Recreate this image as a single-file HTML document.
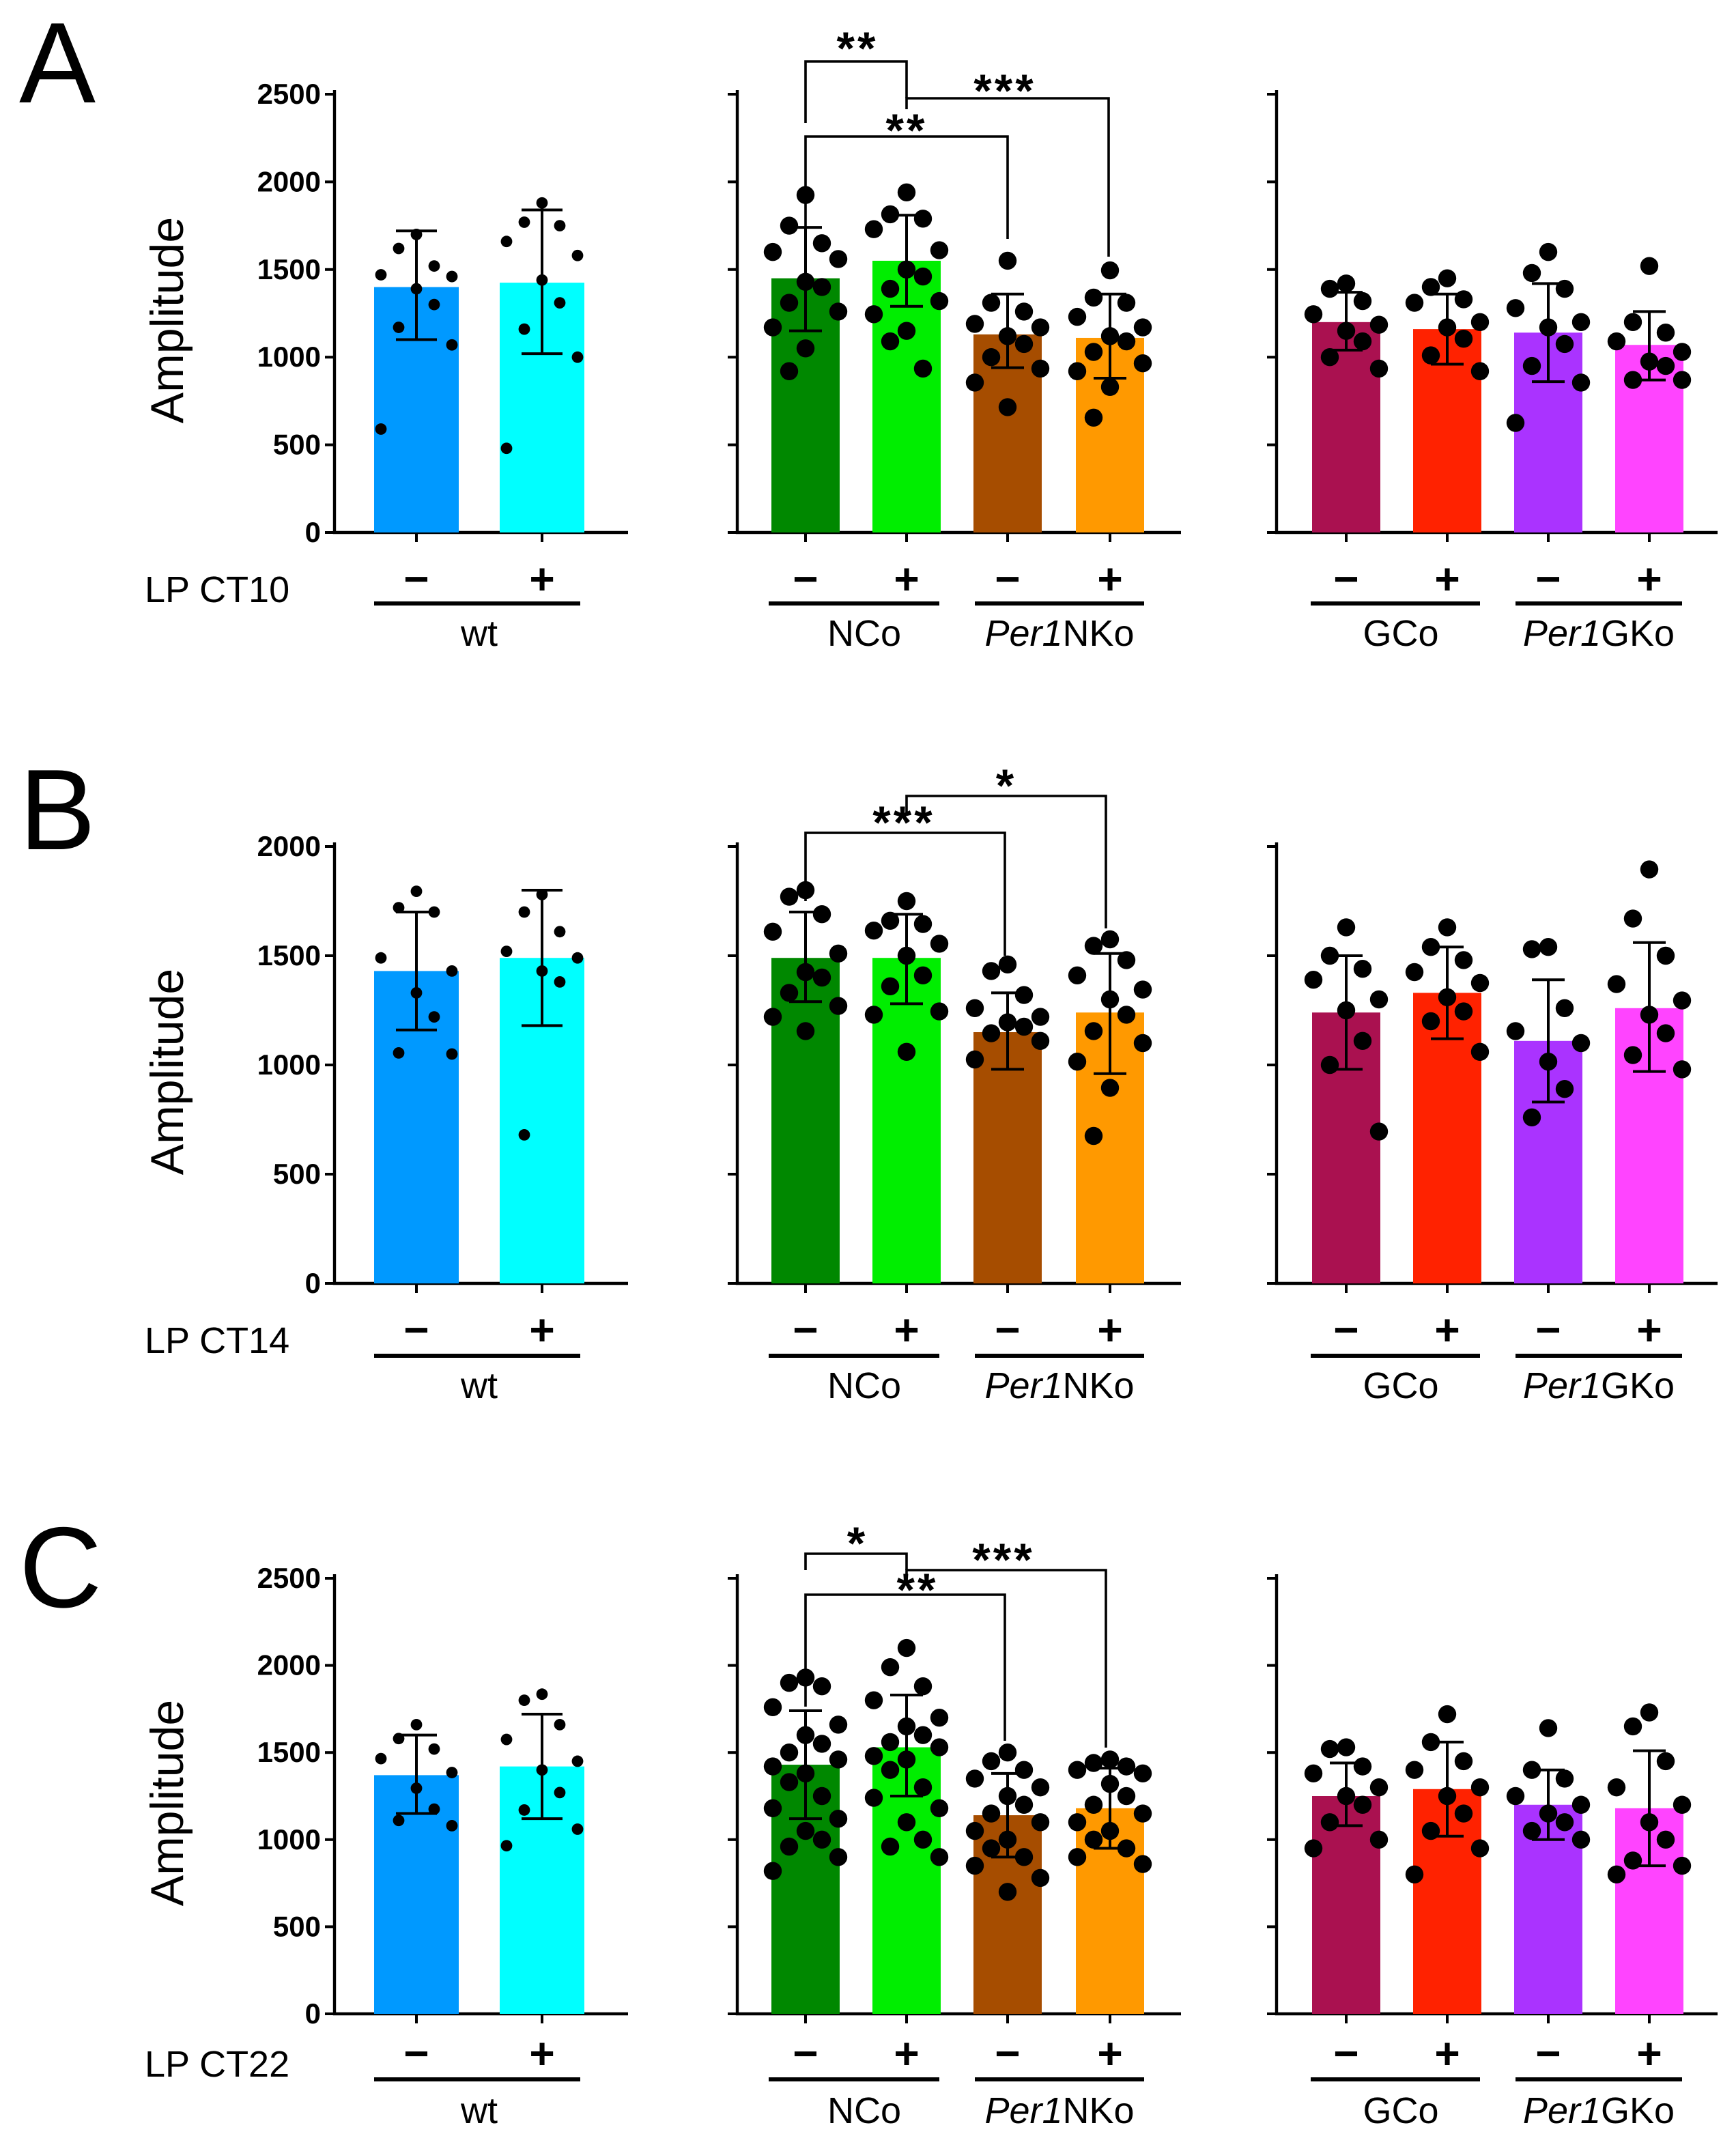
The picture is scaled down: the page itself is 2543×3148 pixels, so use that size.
<!DOCTYPE html>
<html><head><meta charset="utf-8"><style>
html,body{margin:0;padding:0;background:#fff;}
svg{display:block;font-family:"Liberation Sans",Arial,sans-serif;}
</style></head><body>
<svg id="fig" width="2543" height="3148" viewBox="0 0 1271.5 1574" xmlns="http://www.w3.org/2000/svg"></svg>
<script>
const groupNames = ["wt-","wt+","NCo-","NCo+","Per1NKo-","Per1NKo+","GCo-","GCo+","Per1GKo-","Per1GKo+"];
const colors = ["#0099ff","#00ffff","#008800","#00ee00","#a64d00","#ff9900","#aa1150","#ff2200","#aa33ff","#ff44ff"];
const xCenters = [305,397,590,664,738,813,986,1060,1134,1208];

const meansA = [1400,1425,1450,1550,1130,1110,1200,1160,1140,1070];
const errLoA = [1100,1020,1150,1290,940,880,1040,960,860,870];
const errHiA = [1720,1840,1740,1810,1360,1360,1370,1360,1420,1260];
const dotsA = [
 [1700,1620,1520,1470,1460,1390,1300,1170,1070,590],
 [1880,1770,1750,1660,1580,1440,1310,1160,1000,480],
 [1925,1750,1650,1600,1560,1430,1400,1310,1260,1170,1050,920],
 [1940,1815,1790,1730,1610,1500,1460,1390,1320,1245,1150,1090,935],
 [1550,1310,1260,1190,1170,1120,1075,1000,935,855,715],
 [1495,1340,1310,1230,1170,1120,1090,1030,965,920,830,655],
 [1420,1390,1320,1245,1185,1150,1090,1000,935],
 [1450,1400,1330,1310,1200,1170,1105,1010,920],
 [1600,1480,1390,1280,1200,1170,1075,950,855,625],
 [1520,1200,1140,1090,1030,975,950,870,870]
];
const meansB = [1430,1490,1490,1490,1150,1240,1240,1330,1110,1260];
const errLoB = [1160,1180,1290,1280,980,960,980,1120,830,970];
const errHiB = [1700,1800,1700,1690,1330,1510,1500,1540,1390,1560];
const dotsB = [
 [1795,1720,1700,1490,1430,1330,1220,1055,1050],
 [1780,1700,1610,1520,1490,1430,1380,680],
 [1800,1770,1690,1610,1510,1425,1400,1330,1270,1220,1155],
 [1750,1660,1645,1615,1555,1500,1410,1360,1245,1230,1060],
 [1460,1430,1320,1260,1220,1195,1175,1145,1110,1025],
 [1575,1545,1480,1410,1345,1300,1230,1155,1100,1015,895,675],
 [1630,1500,1440,1390,1300,1250,1110,1000,695],
 [1630,1540,1480,1425,1375,1310,1245,1200,1060],
 [1540,1530,1260,1155,1100,1015,890,760],
 [1895,1670,1500,1370,1295,1230,1145,1045,980]
];
const meansC = [1370,1420,1430,1530,1140,1180,1250,1290,1200,1180];
const errLoC = [1150,1120,1120,1250,900,950,1080,1020,1000,850];
const errHiC = [1600,1720,1740,1830,1380,1410,1440,1560,1400,1510];
const dotsC = [
 [1660,1580,1520,1465,1385,1295,1175,1110,1080],
 [1835,1800,1660,1575,1450,1400,1270,1170,1060,965],
 [1930,1900,1880,1760,1660,1600,1550,1500,1460,1420,1380,1330,1250,1180,1120,1050,1000,960,900,820],
 [2100,1990,1880,1800,1700,1650,1600,1560,1530,1480,1460,1400,1300,1240,1180,1100,1000,960,900],
 [1500,1450,1400,1350,1300,1250,1200,1150,1100,1050,1000,950,900,850,780,700],
 [1460,1440,1420,1400,1380,1320,1250,1200,1150,1100,1050,1000,950,900,860],
 [1530,1520,1420,1380,1300,1250,1200,1100,1000,950],
 [1720,1560,1450,1400,1300,1250,1150,1050,950,800],
 [1640,1400,1350,1250,1200,1150,1100,1050,1000],
 [1730,1650,1450,1300,1200,1100,1000,880,850,800]
];
const ticksA = [0,500,1000,1500,2000,2500];
const ticksB = [0,500,1000,1500,2000];
const ticksC = [0,500,1000,1500,2000,2500];

const svg = document.getElementById('fig');
const NS = "http://www.w3.org/2000/svg";
function mk(tag, attrs, parent){const e=document.createElementNS(NS,tag);for(const k in attrs)e.setAttribute(k,attrs[k]);(parent||svg).appendChild(e);return e;}

const panels = [
 {letter:"A", y0:390, yTopPx:69, yTopVal:2500, ticks:ticksA, means:meansA, lo:errLoA, hi:errHiA, dots:dotsA, lp:"LP CT10", signY:423, lineY:442, labY:473, letterY:75},
 {letter:"B", y0:940, yTopPx:620, yTopVal:2000, ticks:ticksB, means:meansB, lo:errLoB, hi:errHiB, dots:dotsB, lp:"LP CT14", signY:973, lineY:993, labY:1024, letterY:622},
 {letter:"C", y0:1475, yTopPx:1156, yTopVal:2500, ticks:ticksC, means:meansC, lo:errLoC, hi:errHiC, dots:dotsC, lp:"LP CT22", signY:1503, lineY:1523, labY:1555, letterY:1177}
];

panels.forEach((p,pi)=>{
  const g = mk('g',{});
  
  
  const yS = v => p.y0 - (v/p.yTopVal)*(p.y0-p.yTopPx);
  const t = mk('text',{x:14,y:p.letterY,'font-size':84},g); t.textContent=p.letter;
  
  
  const yt = mk('text',{x:0,y:0,'font-size':34,'text-anchor':'middle',transform:`translate(134,${(p.y0+p.yTopPx)/2+5}) rotate(-90)`},g); yt.textContent="Amplitude";
  
  
  const axes=[[245,460],[540,865],[935,1258]];
  axes.forEach((a,ai)=>{
    const ax=mk('path',{d:`M${a[0]} ${p.yTopPx-3} V${p.y0} H${a[1]}`,stroke:'#000','stroke-width':2.2,fill:'none'},g);
    
    
    p.ticks.forEach(tv=>{
      mk('line',{x1:a[0]-7,x2:a[0],y1:yS(tv),y2:yS(tv),stroke:'#000','stroke-width':2},g);
      if(ai===0){const tl=mk('text',{x:a[0]-10,y:yS(tv)+7,'font-size':21,'font-weight':'bold','text-anchor':'end'},g);tl.textContent=tv;
        
        }
    });
  });
  p.means.forEach((m,i)=>{
    const xc=xCenters[i], w = i<2?62:50;
    const b=mk('rect',{x:xc-w/2,y:yS(m),width:w,height:p.y0-yS(m),fill:colors[i]},g);
    
    
    mk('line',{x1:xc,x2:xc,y1:p.y0,y2:p.y0+7,stroke:'#000','stroke-width':2},g);
  });
  p.dots.forEach((arr,i)=>{
    const xc=xCenters[i], r=i<2?4.2:6.6, sp=i<2?13:12;
    arr.forEach((v,k)=>{
      const off=[0,-1,1,-2,2,0,1,-1,2,-2][k%10]*sp;
      const c=mk('circle',{cx:xc+off,cy:yS(v),r:r,fill:'#000'},g);
      
      
    });
  });
  p.means.forEach((m,i)=>{
    const xc=xCenters[i], cw=i<2?15:12;
    const e=mk('path',{d:`M${xc} ${yS(p.lo[i])} V${yS(p.hi[i])} M${xc-cw} ${yS(p.hi[i])} H${xc+cw} M${xc-cw} ${yS(p.lo[i])} H${xc+cw}`,stroke:'#000','stroke-width':2,fill:'none'},g);
    
    
  });
  const lp=mk('text',{x:106,y:p.signY+18,'font-size':27},g); lp.textContent=p.lp;
  
  
  xCenters.forEach((xc,i)=>{
    const s=mk('text',{x:xc,y:p.signY+12,'font-size':32,'font-weight':'bold','text-anchor':'middle'},g); s.textContent = i%2===0?'\u2212':'+';
    
    
  });
  const groups=[[274,425,'wt',351,false],[563,688,'NCo',633,false],[714,838,'Per1|NKo',776,true],[960,1084,'GCo',1026,false],[1110,1232,'Per1|GKo',1171,true]];
  groups.forEach(gr=>{
    mk('line',{x1:gr[0],x2:gr[1],y1:p.lineY,y2:p.lineY,stroke:'#000','stroke-width':3},g);
    const tx=mk('text',{x:gr[3],y:p.labY,'font-size':27,'text-anchor':'middle'},g);
    
    
    if(gr[4]){const parts=gr[2].split('|');const a=document.createElementNS(NS,'tspan');a.setAttribute('font-style','italic');a.textContent=parts[0];tx.appendChild(a);const b2=document.createElementNS(NS,'tspan');b2.textContent=parts[1];tx.appendChild(b2);}
    else tx.textContent=gr[2];
  });
});

const sig = [
 {d:"M590 90 V45 H664 V72", s:"**", x:628, y:47},
 {d:"M590 175 V100 H738 V175", s:"**", x:664, y:107},
 {d:"M664 80 V72 H812 V188", s:"***", x:736, y:78},
 {d:"M590 660 V610 H736 V700", s:"***", x:662, y:614},
 {d:"M664 596 V583 H810 V680", s:"*", x:737, y:587},
 {d:"M590 1150 V1138 H664 V1150", s:"*", x:628, y:1142},
 {d:"M590 1250 V1168 H736 V1275", s:"**", x:672, y:1176},
 {d:"M664 1160 V1150 H810 V1280", s:"***", x:735, y:1154}
];
sig.forEach(b=>{
  const p=mk('path',{d:b.d,stroke:'#000','stroke-width':1.8,fill:'none'});
  
  
  const t=mk('text',{x:b.x,y:b.y,'font-size':34,'font-weight':'bold','text-anchor':'middle','letter-spacing':2});
  t.textContent=b.s;
  
  
});
</script>
</body></html>
